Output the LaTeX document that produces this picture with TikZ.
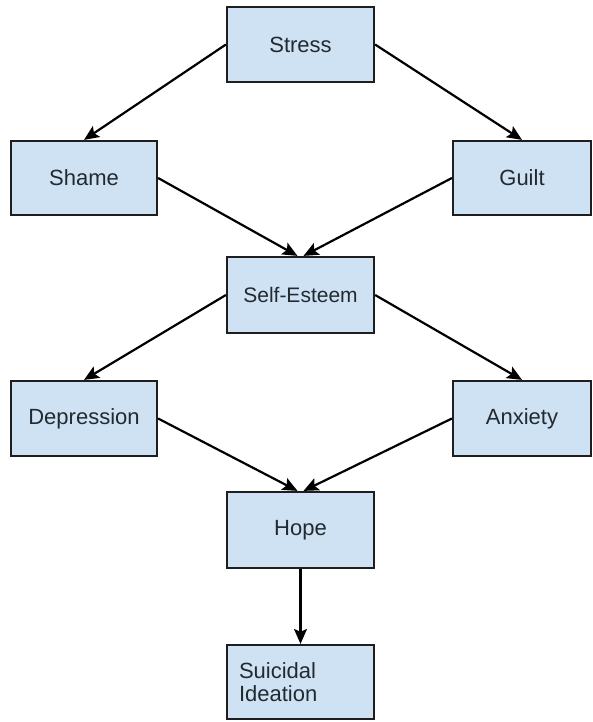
\documentclass[tikz,border=0pt]{standalone}
\usepackage{fontspec}
\setmainfont{Liberation Sans}
\usetikzlibrary{arrows.meta}
\definecolor{ink}{HTML}{1E1E1E}
\definecolor{txt}{HTML}{222A30}
\definecolor{lblue}{HTML}{CFE2F3}
\tikzset{
  >={Stealth[length=15pt,width=13pt,inset=3pt]},
  bx/.style={draw=ink,fill=lblue,line width=2.2pt,text=txt,minimum width=147pt,minimum height=75pt,inner sep=0pt,font=\fontsize{22}{21}\selectfont},
  bxr/.style={bx,minimum width=138pt},
  arr/.style={->,draw=black,line width=2.2pt},
}
\begin{document}
\begin{tikzpicture}[x=1pt,y=-1pt]
  \useasboundingbox[fill=white] (0,0) rectangle (592,722);
  % row 1
  \node[bx] (st) at (300.5,44.5) {Stress};
  % row 2
  \node[bx,minimum width=146pt,minimum height=74pt] (sh) at (84,178) {Shame};
  \node[bxr,minimum height=74pt] (gu) at (522,178) {Guilt};
  % row 3
  \node[bx,minimum height=76pt,font=\fontsize{21}{21}\selectfont] (se) at (300.5,295) {Self-Esteem};
  % row 4
  \node[bx,minimum width=146pt] (de) at (84,418.5) {Depression};
  \node[bxr] (an) at (522,418.5) {Anxiety};
  % row 5
  \node[bx,minimum height=76pt] (ho) at (300.5,530) {Hope};
  % row 6
  \node[bx,minimum height=74pt,align=left,text width=123pt,font=\fontsize{22}{23}\selectfont] (su) at (300.5,682) {Suicidal\\Ideation};
  % arrows
  \draw[arr] (st.west) -- (sh.north);
  \draw[arr] (st.east) -- (gu.north);
  \draw[arr] (sh.east) -- ([xshift=-3pt]se.north);
  \draw[arr] (gu.west) -- ([xshift=3pt]se.north);
  \draw[arr] (se.west) -- (de.north);
  \draw[arr] (se.east) -- (an.north);
  \draw[arr] (de.east) -- ([xshift=-3pt]ho.north);
  \draw[arr] (an.west) -- ([xshift=3pt]ho.north);
  \draw[arr] (ho.south) -- (su.north);
\end{tikzpicture}
\end{document}
